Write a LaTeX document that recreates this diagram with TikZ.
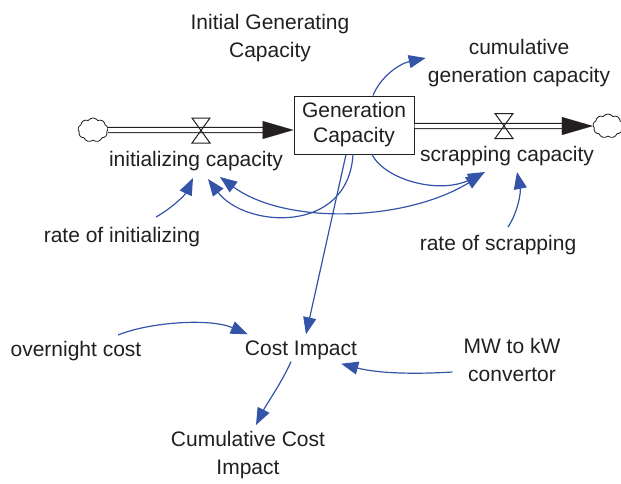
\documentclass[tikz,border=0pt]{standalone}
\usepackage{fontspec}
\setmainfont{Liberation Sans}
\usetikzlibrary{arrows.meta,shapes.symbols}
\definecolor{linkblue}{RGB}{52,84,168}
\definecolor{ink}{RGB}{35,31,32}

\begin{document}
\begin{tikzpicture}[x=1pt,y=-1pt,
  lbl/.style={font=\fontsize{21pt}{28pt}\selectfont,text=ink,align=center,inner sep=2pt},
  link/.style={linkblue,line width=1.2pt,-{Triangle[length=17pt,width=13pt]}},
  twolink/.style={linkblue,line width=1.2pt,{Triangle[length=17pt,width=13pt]}-{Triangle[length=17pt,width=13pt]}},
  pipe/.style={draw=ink,double=white,double distance=4pt,line width=1.2pt},
  flowtip/.style={ink,line width=0.1pt,-{Triangle[length=31pt,width=18pt]}},
  valve/.style={ink,line width=1pt},
  sink/.style={shape=cloud,cloud puffs=9,cloud puff arc=110,aspect=1.3,draw=ink,fill=white,line width=0.8pt,minimum width=30pt,minimum height=24pt,inner sep=0pt}]
  \useasboundingbox (0,0) rectangle (621,483);

  %variaveis
  \node[lbl] (initgen) at (270,38) {Initial Generating\\Capacity};
  \node[lbl] (cumgen) at (519,63) {cumulative\\generation capacity};
  \node[lbl,draw=ink,line width=1pt,minimum width=120pt,minimum height=58pt,font=\fontsize{21pt}{25pt}\selectfont] (genc) at (354,125) {Generation\\Capacity};
  \node[lbl] (initflow) at (196,161) {initializing capacity};
  \node[lbl] (scrap) at (507,156) {scrapping capacity};
  \node[lbl] (rinit) at (122,237) {rate of initializing};
  \node[lbl] (rscrap) at (498,245) {rate of scrapping};
  \node[lbl] (overnight) at (76,351) {overnight cost};
  \node[lbl] (costimp) at (301,350) {Cost Impact};
  \node[lbl] (mwkw) at (512,360) {MW to kW\\convertor};
  \node[lbl] (cumcost) at (248,455) {Cumulative Cost\\Impact};

  %fluxos
  \node[sink] (cloudL) at (93,130) {};
  \node[sink] (cloudR) at (608,126) {};
  \coordinate (valveL) at (201,130.5);
  \coordinate (valveR) at (504,126);
  \draw[pipe] (cloudL.east) -- ([xshift=-30pt,yshift=-5pt]genc.west);
  \draw[flowtip] ([xshift=-31pt,yshift=-5pt]genc.west) -- ([yshift=-5pt]genc.west);
  \draw[pipe] ([yshift=-1pt]genc.east) -- ([xshift=-30pt]cloudR.west);
  \draw[flowtip] ([xshift=-31pt]cloudR.west) -- (cloudR.west);
  \draw[valve] (valveL) -- ++(-9,-12.5) -- ++(18,0) -- cycle (valveL) -- ++(-9,12.5) -- ++(18,0) -- cycle;
  \draw[valve] (valveR) -- ++(-9,-12.5) -- ++(18,0) -- cycle (valveR) -- ++(-9,12.5) -- ++(18,0) -- cycle;

  %setas
  \draw[link] ([xshift=19pt]genc.north) .. controls (380,78) and (398,64) .. ([yshift=5pt]cumgen.west);
  \draw[link] ([xshift=-1pt]genc.south) .. controls (348,235) and (245,228) .. ([xshift=12pt,yshift=-6pt]initflow.south);
  \draw[twolink] ([xshift=24pt,yshift=-4pt]initflow.south) .. controls (285,225) and (405,222) .. ([xshift=-24pt,yshift=-6pt]scrap.south);
  \draw[link] ([xshift=18pt]genc.south) .. controls (385,180) and (440,195) .. ([xshift=-22pt,yshift=-4pt]scrap.south);
  \draw[link] ([xshift=34pt,yshift=8pt]rinit.north) .. controls (172,208) and (185,195) .. ([xshift=-3pt,yshift=-5pt]initflow.south);
  \draw[link] ([xshift=10pt,yshift=6pt]rscrap.north) .. controls (518,212) and (521,192) .. ([xshift=10pt,yshift=-4pt]scrap.south);
  \draw[link] ([xshift=-8pt]genc.south) -- ([xshift=5pt,yshift=4pt]costimp.north);
  \draw[link] ([xshift=42pt,yshift=4pt]overnight.north) .. controls (150,322) and (210,318) .. ([xshift=5pt,yshift=4pt]costimp.north west);
  \draw[link] ([xshift=-9pt,yshift=-12pt]mwkw.west) .. controls (420,374) and (380,374) .. ([xshift=-18pt,yshift=-2pt]costimp.south east);
  \draw[link] ([xshift=-10pt]costimp.south) .. controls (282,382) and (266,405) .. ([xshift=8pt,yshift=4pt]cumcost.north);
\end{tikzpicture}
\end{document}
